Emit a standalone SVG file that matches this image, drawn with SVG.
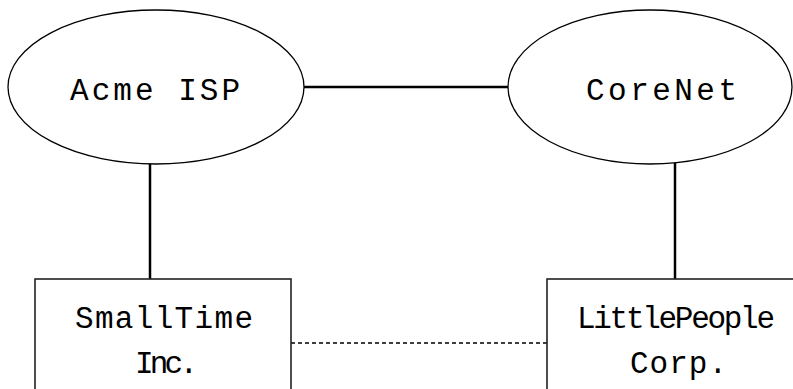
<svg xmlns="http://www.w3.org/2000/svg" width="793" height="389" viewBox="0 0 793 389">
  <style>
    .net { fill: #ffffff; stroke: #000000; stroke-width: 1.3; }
    .site { fill: #ffffff; stroke: #222222; stroke-width: 1.6; }
    .label { font-family: "Courier New", "Liberation Mono", monospace; font-size: 31px; fill: #000000; }
    .link { stroke: #000000; stroke-width: 2.5; fill: none; }
    .peer { stroke: #000000; stroke-width: 1.3; stroke-dasharray: 4 3; fill: none; }
  </style>
  <rect width="793" height="389" fill="#ffffff"/>

  <!-- links between networks and sites -->
  <g id="connectors">
    <line class="link" x1="304" y1="87" x2="508" y2="87"/>
    <line class="link" x1="150" y1="163" x2="150" y2="279"/>
    <line class="link" x1="675" y1="163" x2="675" y2="279"/>
    <line class="peer" x1="291" y1="343" x2="547" y2="343"/>
  </g>

  <g id="acme-isp">
    <ellipse class="net" cx="156" cy="87" rx="148" ry="77"/>
    <text class="label" x="70" y="100" textLength="170" lengthAdjust="spacing">Acme ISP</text>
  </g>

  <g id="corenet">
    <ellipse class="net" cx="650" cy="87" rx="142" ry="77"/>
    <text class="label" x="586" y="100" textLength="151" lengthAdjust="spacing">CoreNet</text>
  </g>

  <g id="smalltime">
    <rect class="site" x="35" y="279" width="256" height="120"/>
    <text class="label" x="75" y="328" textLength="178" lengthAdjust="spacing">SmallTime</text>
    <text class="label" x="135" y="373" textLength="63" lengthAdjust="spacing">Inc.</text>
  </g>

  <g id="littlepeople">
    <rect class="site" x="547" y="279" width="260" height="120"/>
    <text class="label" x="577" y="328" textLength="198" lengthAdjust="spacing">LittlePeople</text>
    <text class="label" x="630" y="373" textLength="97" lengthAdjust="spacing">Corp.</text>
  </g>
</svg>
